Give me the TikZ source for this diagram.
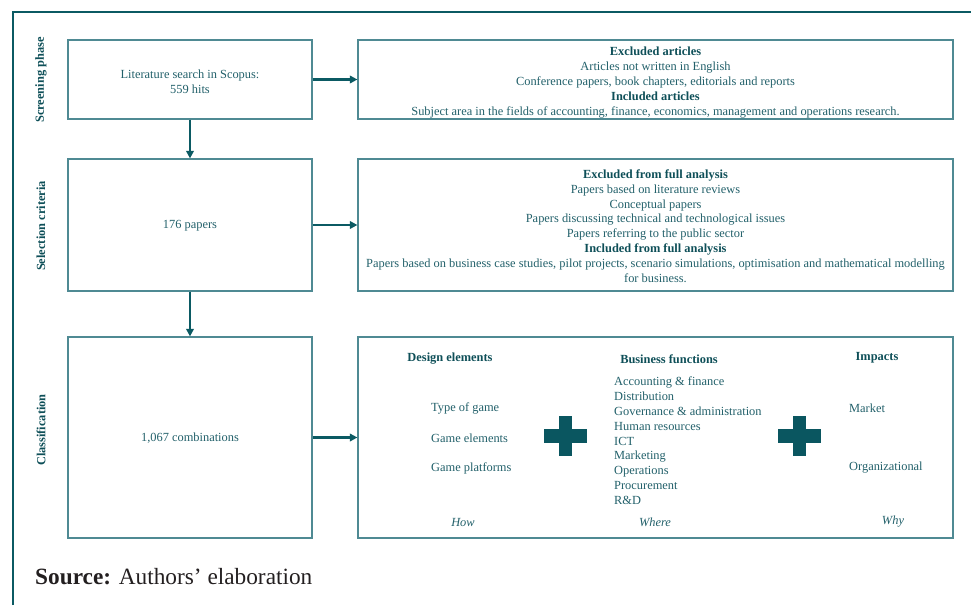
\documentclass[tikz,border=0pt]{standalone}
\usepackage{fontspec}
\setmainfont{Liberation Serif}
\usetikzlibrary{arrows.meta}
\definecolor{frameteal}{HTML}{0B5A63}
\definecolor{boxteal}{HTML}{4F8A93}
\definecolor{textteal}{HTML}{22606A}
\definecolor{headteal}{HTML}{0E4F58}
\definecolor{crossteal}{HTML}{0A5660}
\definecolor{srcgrey}{HTML}{231F20}
\newcommand{\boxfont}{\fontsize{12.4}{14.8}\selectfont}
\begin{document}
\begin{tikzpicture}[x=1pt,y=-1pt,
  panel/.style={draw=boxteal,line width=1.2pt,rectangle,inner sep=0pt},
  txt/.style={text=textteal,font=\boxfont,inner sep=0pt},
  ctxt/.style={txt,align=center},
  ltxt/.style={txt,anchor=west},
  itxt/.style={txt,font=\boxfont\itshape},
  head/.style={text=headteal,font=\boxfont\bfseries,inner sep=0pt},
  side/.style={text=headteal,font=\fontsize{12.4}{14}\selectfont\bfseries,rotate=90,inner sep=0pt},
  flow/.style={draw=frameteal,line width=2.2pt,-{Triangle[length=7.5pt,width=7.5pt]}},
  crossfill/.style={fill=crossteal,draw=none}]
\useasboundingbox (0,0) rectangle (971,605);

% outer frame: top rule and left rule
\draw[frameteal,line width=2.5pt] (13,605) -- (13,12) -- (971,12);

% left column boxes
\node[panel,minimum width=244pt,minimum height=79pt] (search) at (190,79.5) {};
\node[panel,minimum width=244pt,minimum height=132pt] (papers) at (190,225) {};
\node[panel,minimum width=244pt,minimum height=201pt] (combos) at (190,437.5) {};

% right column boxes
\node[panel,minimum width=595pt,minimum height=79pt] (screen) at (655.5,79.5) {};
\node[panel,minimum width=595pt,minimum height=132pt] (select) at (655.5,225) {};
\node[panel,minimum width=595pt,minimum height=201pt] (classify) at (655.5,437.5) {};

% phase labels
\node[side] (lab1) at (41,80) {Screening phase};
\node[side] (lab2) at (41,226) {Selection criteria};
\node[side] (lab3) at (41,430) {Classification};

% left box texts
\node[ctxt] (t1) at (190,82) {Literature search in Scopus:\\559 hits};
\node[ctxt] (t2) at (190,226) {176 papers};
\node[ctxt] (t3) at (190,438) {1,067 combinations};

% screening criteria
\node[ctxt] (t4) at (655.5,82.5) {{\color{headteal}\bfseries Excluded articles}\\
Articles not written in English\\
Conference papers, book chapters, editorials and reports\\
{\color{headteal}\bfseries Included articles}\\
Subject area in the fields of accounting, finance, economics, management and operations research.};

% selection criteria
\node[ctxt] (t5) at (655.5,226) {{\color{headteal}\bfseries Excluded from full analysis}\\
Papers based on literature reviews\\
Conceptual papers\\
Papers discussing technical and technological issues\\
Papers referring to the public sector\\
{\color{headteal}\bfseries Included from full analysis}\\
Papers based on business case studies, pilot projects, scenario simulations, optimisation and mathematical modelling\\
for business.};

% classification: design elements
\node[head] (h1) at (450,359) {Design elements};
\node[ltxt] (d1) at (431,408) {Type of game};
\node[ltxt] (d2) at (431,438) {Game elements};
\node[ltxt] (d3) at (431,468) {Game platforms};
\node[itxt] (w1) at (463,522) {How};

% classification: business functions
\node[head] (h2) at (669,359) {Business functions};
\node[txt,anchor=north west,align=left,font=\fontsize{12.4}{14.9}\selectfont] (bf) at (614,376.5) {Accounting \& finance\\
Distribution\\
Governance \& administration\\
Human resources\\
ICT\\
Marketing\\
Operations\\
Procurement\\
R\&D};
\node[itxt] (w2) at (655,522) {Where};

% classification: impacts
\node[head] (h3) at (877,358) {Impacts};
\node[ltxt] (i1) at (849,408) {Market};
\node[ltxt] (i2) at (849,468) {Organizational};
\node[itxt] (w3) at (893,522) {Why};

% plus signs
\foreach \cx in {565.5,799.5}{
  \fill[crossfill] (\cx-6.5,416) rectangle (\cx+6.5,456);
  \fill[crossfill] (\cx-21.5,429) rectangle (\cx+21.5,443);
}

% flow arrows
\draw[flow] (search.east) -- (screen.west);
\draw[flow] (papers.east) -- (select.west);
\draw[flow] (combos.east) -- (classify.west);
\draw[flow] (search.south) -- (papers.north);
\draw[flow] (papers.south) -- (combos.north);

% source line
\node[anchor=west,inner sep=0pt,text=srcgrey,font=\fontsize{23.3}{26}\selectfont] (src) at (35,577) {\textbf{Source:} Authors’ elaboration};
\end{tikzpicture}
\end{document}
